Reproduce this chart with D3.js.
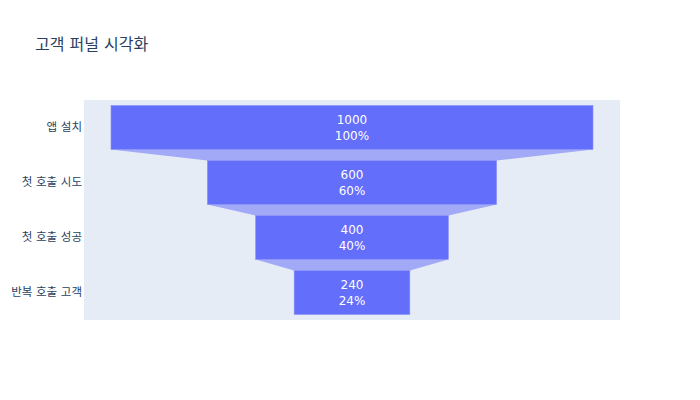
<!DOCTYPE html>
<html>
<head>
<meta charset="utf-8">
<script src="https://cdn.jsdelivr.net/npm/d3@7"></script>
<style>
  body { margin: 0; background: #fff; }
  svg text { font-family: "DejaVu Sans", "Noto Sans CJK KR", sans-serif; }
</style>
</head>
<body>
<svg id="chart" width="700" height="400"></svg>
<script>
// funnel stages, top to bottom
var stages = ["앱 설치", "첫 호출 시도", "첫 호출 성공", "반복 호출 고객"];
var counts = [1000, 600, 400, 240];

var W = 700, H = 400,
    margin = {top: 100, right: 80, bottom: 80, left: 84};

var svg = d3.select("#chart");

var iw = W - margin.left - margin.right,
    ih = H - margin.top - margin.bottom;

var maxV = d3.max(counts);
var x = d3.scaleLinear()
  .domain([-maxV * 0.556, maxV * 0.556])
  .range([0, iw]);

var y = d3.scaleBand()
  .domain(stages)
  .range([0, ih])
  .paddingInner(0.2)
  .paddingOuter(0.1);

// title
svg.append("text")
  .attr("x", 35).attr("y", 50)
  .attr("fill", "#2a3f5f")
  .style("font-size", "16px")
  .text("고객 퍼널 시각화");

var g = svg.append("g")
  .attr("transform", "translate(" + margin.left + "," + margin.top + ")");

g.append("rect")
  .attr("width", iw).attr("height", ih)
  .attr("fill", "#e5ecf6");

// connectors between stages
var links = d3.range(counts.length - 1).map(function(i) {
  return {a: counts[i], b: counts[i + 1], s0: stages[i], s1: stages[i + 1]};
});

g.selectAll("path.conn")
  .data(links)
  .enter()
  .append("path")
  .attr("class", "conn")
  .attr("fill", "#a2a9f7")
  .attr("d", function(d) {
    var y0 = y(d.s0) + y.bandwidth(), y1 = y(d.s1);
    return "M" + x(-d.a / 2) + "," + y0 +
           "L" + x(d.a / 2) + "," + y0 +
           "L" + x(d.b / 2) + "," + y1 +
           "L" + x(-d.b / 2) + "," + y1 + "Z";
  });

// bars
g.selectAll("rect.bar")
  .data(counts)
  .enter()
  .append("rect")
  .attr("class", "bar")
  .attr("x", function(d) { return x(-d / 2); })
  .attr("y", function(d, i) { return y(stages[i]); })
  .attr("width", function(d) { return x(d / 2) - x(-d / 2); })
  .attr("height", y.bandwidth())
  .attr("fill", "#636efa")
  .attr("stroke", "#8a92f8")
  .attr("stroke-width", 0.6);

// labels inside bars
var lab = g.selectAll("text.lab")
  .data(counts)
  .enter()
  .append("text")
  .attr("class", "lab")
  .attr("text-anchor", "middle")
  .attr("fill", "#fff")
  .style("font-size", "12px");

lab.append("tspan")
  .attr("x", x(0))
  .attr("y", function(d, i) { return y(stages[i]) + y.bandwidth() / 2 - 3.5; })
  .text(function(d) { return d; });

lab.append("tspan")
  .attr("x", x(0))
  .attr("y", function(d, i) { return y(stages[i]) + y.bandwidth() / 2 + 12.5; })
  .text(function(d) { return Math.round(d / counts[0] * 100) + "%"; });

// y axis labels
var yAxis = d3.axisLeft(y).tickSize(0).tickPadding(0);
var ya = g.append("g").attr("transform", "translate(-2,0)").call(yAxis);
ya.select(".domain").remove();
ya.selectAll("text")
  .attr("fill", "#2a3f5f")
  .style("font-size", "11.5px");
</script>
</body>
</html>
